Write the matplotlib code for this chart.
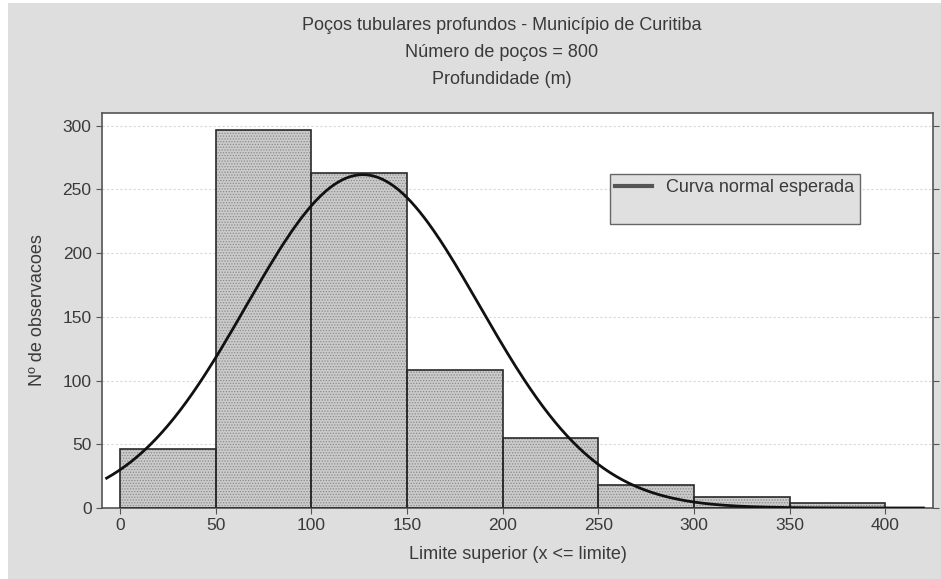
import numpy as np
import matplotlib
matplotlib.use('Agg')
import matplotlib.pyplot as plt
from matplotlib.patches import Rectangle

# Histogram of well depths (class upper limits, 50 m wide)
bin_edges = [0, 50, 100, 150, 200, 250, 300, 350, 400]
counts = [46, 297, 263, 108, 55, 18, 9, 4]

# Expected normal curve parameters
n_wells = 800
bin_width = 50
depth_mean = 127.0
depth_std = 61.0

title_lines = [
    "Poços tubulares profundos - Município de Curitiba",
    "Número de poços = 800",
    "Profundidade (m)",
]
x_ticks = [0, 50, 100, 150, 200, 250, 300, 350, 400]
y_ticks = [0, 50, 100, 150, 200, 250, 300]

plt.rcParams['font.family'] = ['Liberation Sans', 'DejaVu Sans']
plt.rcParams['hatch.linewidth'] = 0.6

W, H = 941, 579
fig = plt.figure(figsize=(W / 100, H / 100), dpi=100, facecolor='white')
fig.patches.append(Rectangle((8 / W, 0), 1 - 8 / W, 1 - 3 / H,
                             transform=fig.transFigure, facecolor='#dedede',
                             edgecolor='none', zorder=-10))

ax = fig.add_axes([102 / W, 71 / H, (933 - 102) / W, (508 - 113) / H])
ax.set_facecolor('white')

lefts = bin_edges[:-1]
widths = np.diff(bin_edges)
# dotted fill, then the dark outlines on top
ax.bar(lefts, counts, width=widths, align='edge', color='#cbcbcb',
       edgecolor='#8a8a8a', hatch='......', linewidth=0, zorder=2)
ax.bar(lefts, counts, width=widths, align='edge', fill=False,
       edgecolor='#2a2a2a', linewidth=1.2, zorder=3)

xs = np.linspace(-7, 420, 400)
expected = (n_wells * bin_width / (depth_std * np.sqrt(2 * np.pi))
            * np.exp(-0.5 * ((xs - depth_mean) / depth_std) ** 2))
ax.plot(xs, expected, color='#111111', linewidth=2.0, zorder=4,
        label='Curva normal esperada')
# blank second row keeps the legend box as tall as the original layout
ax.plot([], [], alpha=0, label=' ')

ax.set_xlim(-9.4, 425)
ax.set_ylim(0, 310)
ax.set_xticks(x_ticks)
ax.set_yticks(y_ticks)
ax.yaxis.grid(True, color='#d8d8d8', linestyle=(0, (2, 2)), linewidth=0.8)
ax.set_axisbelow(True)
ax.tick_params(axis='both', labelsize=12.5, colors='#555555', labelcolor='#3a3a3a',
               length=4, width=0.8)
ax.tick_params(axis='y', right=True, direction='out')
for s in ax.spines.values():
    s.set_color('#555555')
    s.set_linewidth(1.2)

ax.set_xlabel('Limite superior (x <= limite)', fontsize=13, color='#3a3a3a', labelpad=9)
ax.set_ylabel('Nº de observacoes', fontsize=13, color='#3a3a3a', labelpad=12)

for i, line in enumerate(title_lines):
    fig.text(0.533, 1 - (25 + 27.5 * i) / H, line, ha='center', va='center',
             fontsize=13, color='#3a3a3a')

leg = ax.legend(loc='upper left',
                bbox_to_anchor=((610 - 102) / (933 - 102), (508 - 174) / (508 - 113)),
                fontsize=13, frameon=True, fancybox=False, handlelength=2.0,
                borderpad=0.3, labelspacing=0.3, borderaxespad=0,
                labelcolor='#3a3a3a')
leg.get_frame().set_facecolor('#e0e0e0')
leg.get_frame().set_edgecolor('#666666')
leg.get_frame().set_alpha(1)
leg.get_lines()[0].set_color('#555555')
leg.get_lines()[0].set_linewidth(3)

fig.savefig('out.png', dpi=100, facecolor=fig.get_facecolor())
